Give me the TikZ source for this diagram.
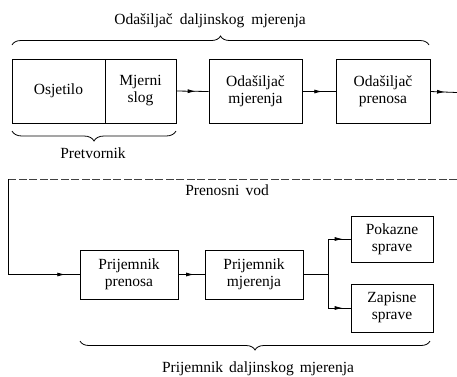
\documentclass[tikz,border=0pt]{standalone}
\usepackage{fontspec}
\setmainfont{Liberation Serif}
\usetikzlibrary{arrows.meta,decorations.markings,decorations.pathreplacing}
\tikzset{line cap=round,line join=round}
\tikzset{
    blok/.style={draw,line width=0.8pt,align=center,inner sep=0pt,font=\fontsize{15.5}{17}\selectfont},
    natpis/.style={inner sep=0pt,anchor=base,font=\fontsize{15.5}{17}\selectfont},
    midarrow/.style={decoration={markings,mark=at position #1 with {\arrow{Latex[length=8pt,width=4pt]}}},postaction={decorate}},
    midarrow/.default=0.6,
    zagrada/.style={decorate,decoration={brace,amplitude=#1},line width=0.8pt},
    zagrada/.default=9pt
}

\begin{document}
\begin{tikzpicture}[x=1pt,y=-1pt,line width=0.8pt]
    \useasboundingbox (0,0) rectangle (457,376);
    % odasiljac
    \node[name=osj,blok,minimum width=93pt,minimum height=64pt] at (58.5,91) {Osjetilo};
    \node[name=mjs,blok,minimum width=71pt,minimum height=64pt] at (140.5,91) {Mjerni\\slog};
    \node[name=odm,blok,minimum width=93pt,minimum height=64pt] at (255.5,91.5) {Odašiljač\\mjerenja};
    \node[name=odp,blok,minimum width=94pt,minimum height=64pt] at (383,91.5) {Odašiljač\\prenosa};
    \coordinate (izlaz) at (457,92.5);
    \draw[midarrow] (mjs.east) -- (odm.west);
    \draw[midarrow] (odm.east) -- (odp.west);
    \draw[midarrow=0.55] (odp.east) -- (izlaz);
    \draw[zagrada] (12,45) -- (429,45);
    \node[name=naslov,natpis] at (210,24) {Odašiljač\hspace{7pt}daljinskog\hspace{7pt}mjerenja};
    \draw[zagrada=10pt] (176,131) -- (12,131);
    \node[name=pretvornik,natpis] at (93,158) {Pretvornik};
    % vod
    \coordinate (vodD) at (457,179);
    \coordinate (vodL) at (8,179);
    \node[name=vod,natpis] at (227,195) {Prenosni\hspace{6pt}vod};
    % prijemnik
    \node[name=prp,blok,minimum width=98pt,minimum height=49pt] at (129,274.5) {Prijemnik\\prenosa};
    \node[name=mjm,blok,minimum width=98pt,minimum height=49pt] at (254,274.5) {Prijemnik\\mjerenja};
    \node[name=pok,blok,minimum width=82pt,minimum height=46pt] at (392,239) {Pokazne\\sprave};
    \node[name=zap,blok,minimum width=82pt,minimum height=48pt] at (392,308) {Zapisne\\sprave};
    \coordinate (ugao) at (vodL |- prp.west);
    \coordinate (grana) at (328,274.5);
    \draw[dashed,dash pattern=on 8pt off 2.5pt,black!75] (vodD) -- (vodL);
    \draw (vodL) -- (ugao);
    \draw[midarrow=0.8] (ugao) -- (prp.west);
    \draw[midarrow] (prp.east) -- (mjm.west);
    \draw (mjm.east) -- (grana);
    \draw (grana |- pok.west) -- (grana |- zap.west);
    \foreach \b in {pok,zap}{\draw[midarrow=0.65] (grana |- \b.west) -- (\b.west);}
    \draw[zagrada] (430,341) -- (80,341);
    \node[name=prijemnik,natpis] at (258,372) {Prijemnik\hspace{6pt}daljinskog\hspace{6pt}mjerenja};
\end{tikzpicture}
\end{document}
